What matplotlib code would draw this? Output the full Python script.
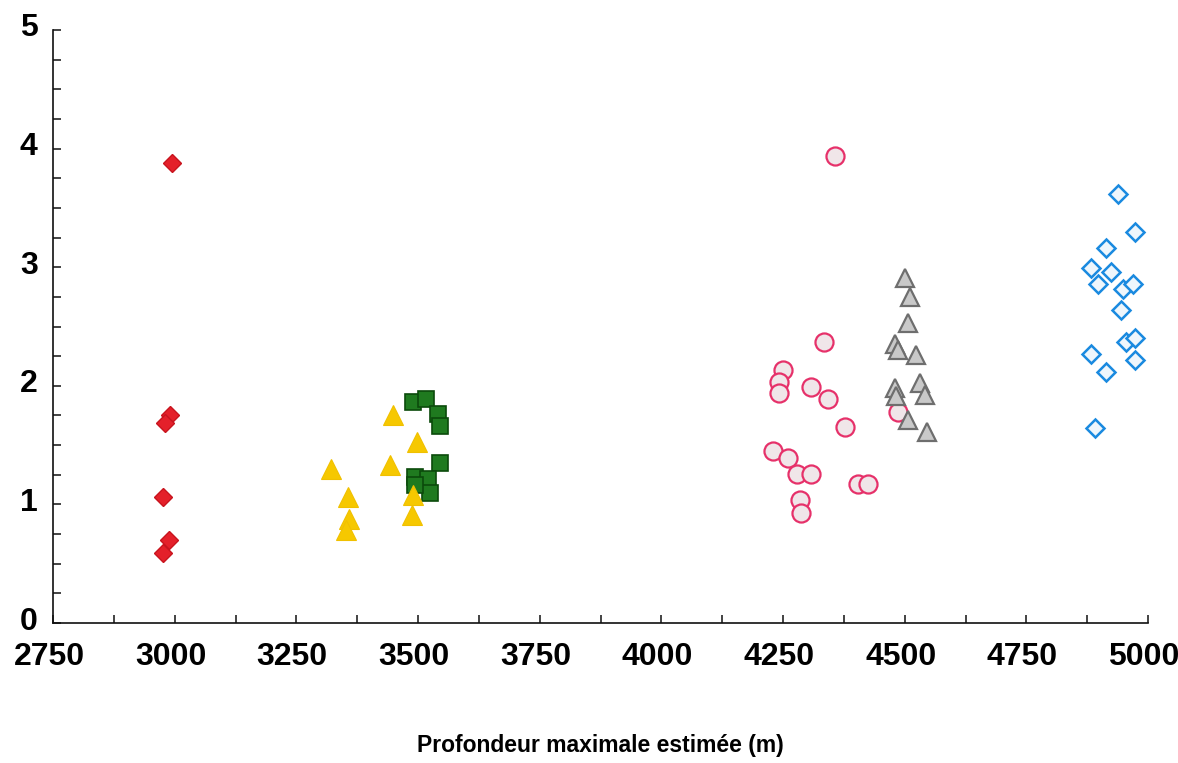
import matplotlib
matplotlib.use("Agg")
import matplotlib.pyplot as plt
from matplotlib.ticker import MultipleLocator
from matplotlib.transforms import ScaledTranslation

plt.rcParams['font.family'] = ['Liberation Sans', 'DejaVu Sans']

# Series data (depth in m, value)
red_x = [2994, 2990, 2980, 2976, 2988, 2976]
red_y = [3.88, 1.75, 1.69, 1.06, 0.70, 0.59]

green_x = [3489, 3516, 3541, 3545, 3545, 3494, 3520, 3524, 3494]
green_y = [1.86, 1.89, 1.76, 1.66, 1.35, 1.23, 1.21, 1.10, 1.16]

yellow_x = [3449, 3497, 3322, 3442, 3357, 3359, 3353, 3490, 3487]
yellow_y = [1.75, 1.53, 1.30, 1.33, 1.06, 0.88, 0.78, 1.08, 0.91]

pink_x = [4357, 4334, 4250, 4241, 4241, 4308, 4343, 4377, 4230, 4260,
          4279, 4308, 4404, 4425, 4285, 4288, 4487]
pink_y = [3.94, 2.37, 2.13, 2.03, 1.94, 1.99, 1.89, 1.65, 1.45, 1.39,
          1.26, 1.26, 1.17, 1.17, 1.04, 0.93, 1.78]

gray_x = [4500, 4510, 4507, 4480, 4486, 4524, 4531, 4541, 4480, 4483, 4507, 4545]
gray_y = [2.91, 2.75, 2.53, 2.35, 2.30, 2.26, 2.02, 1.92, 1.98, 1.91, 1.71, 1.61]

blue_x = [4938, 4973, 4914, 4883, 4924, 4897, 4949, 4969, 4945, 4954,
          4973, 4883, 4973, 4914, 4891]
blue_y = [3.62, 3.30, 3.16, 2.99, 2.96, 2.86, 2.82, 2.86, 2.64, 2.37,
          2.40, 2.27, 2.22, 2.12, 1.64]

x_ticks = [2750, 3000, 3250, 3500, 3750, 4000, 4250, 4500, 4750, 5000]
y_ticks = [0, 1, 2, 3, 4, 5]
x_label = "Profondeur maximale estimée (m)"

fig = plt.figure(figsize=(11.78, 7.63), dpi=100)
ax = fig.add_axes([53/1178, 1 - 623/763, (1148-53)/1178, (623-30)/763])

ax.plot(red_x, red_y, ls='none', marker='D', ms=9.5, mfc='#e4202a',
        mec='#c8141e', mew=1.0)
ax.plot(green_x, green_y, ls='none', marker='s', ms=12, mfc='#1f7a1f',
        mec='#0b4a0b', mew=1.2)
ax.plot(yellow_x, yellow_y, ls='none', marker='^', ms=14, mfc='#f6c800',
        mec='#f0c000', mew=0.8)
ax.plot(pink_x, pink_y, ls='none', marker='o', ms=13, mfc='#f0e6e9',
        mec='#e6316a', mew=1.6)
ax.plot(gray_x, gray_y, ls='none', marker='^', ms=13.5, mfc='#c9c9c9',
        mec='#6e6e6e', mew=1.6)
ax.plot(blue_x, blue_y, ls='none', marker='D', ms=9.5, mfc='#eef6fc',
        mec='#1a8ae0', mew=1.8)

ax.set_xlim(2750, 5000)
ax.set_ylim(0, 5)
ax.set_xticks(x_ticks)
ax.set_xticklabels([str(t) for t in x_ticks])
ax.set_yticks(y_ticks)
ax.set_yticklabels([str(t) for t in y_ticks])
ax.xaxis.set_minor_locator(MultipleLocator(125))
ax.yaxis.set_minor_locator(MultipleLocator(0.25))

for s in ['top', 'right']:
    ax.spines[s].set_visible(False)
for s in ['left', 'bottom']:
    ax.spines[s].set_linewidth(1.2)
    ax.spines[s].set_color('#111111')

ax.tick_params(axis='both', which='both', direction='in', length=6,
               width=1.1, color='#111111')
ax.tick_params(axis='x', which='major', pad=14, labelsize=23)
ax.tick_params(axis='y', which='major', pad=11, labelsize=23)
yoff = ScaledTranslation(0, 5/100, fig.dpi_scale_trans)
xoff = ScaledTranslation(-4/100, 0, fig.dpi_scale_trans)
for lab in ax.get_xticklabels():
    lab.set_fontweight('bold')
    lab.set_transform(lab.get_transform() + xoff)
for lab in ax.get_yticklabels():
    lab.set_fontweight('bold')
    lab.set_transform(lab.get_transform() + yoff)

ax.set_xlabel(x_label, fontsize=16.5, fontweight='bold', labelpad=44)

fig.savefig("out.png", dpi=100, facecolor='white')
